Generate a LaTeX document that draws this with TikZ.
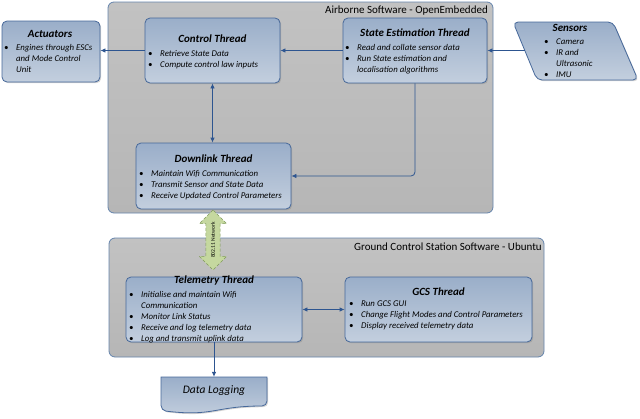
\documentclass[tikz,border=0pt]{standalone}
\usepackage{fontspec}
\setmainfont{Carlito}
\usetikzlibrary{shapes.arrows,shadows,arrows.meta}
\definecolor{boxtop}{HTML}{9AAEC9}
\definecolor{boxbot}{HTML}{C3CFDE}
\definecolor{boxborder}{HTML}{46689A}
\definecolor{conttop}{HTML}{C2C2C2}
\definecolor{contbot}{HTML}{B6B6B6}
\definecolor{contborder}{HTML}{6584AC}
\definecolor{arrowc}{HTML}{2D5590}
\definecolor{netfill}{HTML}{C5D89F}
\definecolor{netborder}{HTML}{7F9A5A}
\newcommand\bl{\makebox[12pt][l]{\textbullet}}
\newcommand\cl{\hspace*{12pt}}
\tikzset{
  cont/.style={draw=contborder, line width=0.8pt, rounded corners=6pt, top color=conttop, bottom color=contbot},
  box/.style={draw=boxborder, line width=0.8pt, rounded corners=5pt, top color=boxtop, bottom color=boxbot,
    drop shadow={opacity=0.35, shadow xshift=1.2pt, shadow yshift=-1.2pt}},
  ttl/.style={font=\fontsize{11}{13}\selectfont\bfseries\itshape, inner sep=0pt},
  body/.style={font=\fontsize{8.8}{11}\selectfont\itshape, align=left, inner sep=0pt, anchor=north west},
  conn/.style={draw=arrowc, line width=0.8pt, -{Latex[length=5pt,width=4.5pt]}},
  conn2/.style={draw=arrowc, line width=0.8pt, {Latex[length=5pt,width=4.5pt]}-{Latex[length=5pt,width=4.5pt]}},
  ctitle/.style={font=\fontsize{11}{13}\selectfont, inner sep=0pt, anchor=east}
}
\begin{document}
\begin{tikzpicture}[x=1pt,y=-1pt]
\useasboundingbox (0,0) rectangle (640,418);
% containers
\node[cont, minimum width=385pt, minimum height=211pt] (air) at (300.5,107.5) {};
\node[ctitle] (airT) at (488,11) {Airborne Software - OpenEmbedded};
\node[cont, minimum width=435pt, minimum height=119pt] (gnd) at (326.5,297.5) {};
\node[ctitle] (gndT) at (542,247) {Ground Control Station Software - Ubuntu};
% Actuators
\node[box, minimum width=98pt, minimum height=61pt] (act) at (51,51.5) {};
\node[ttl] (actT) at (50,34) {Actuators};
\node[body] (actB) at (4,44.5) {\bl Engines through ESCs\\ \cl and Mode Control\\ \cl Unit};
% Control
\node[box, minimum width=135pt, minimum height=65pt] (ctrl) at (212.5,50.5) {};
\node[ttl] (ctrlT) at (212.5,39) {Control Thread};
\node[body] (ctrlB) at (148,50) {\bl Retrieve State Data\\ \bl Compute control law inputs};
% State estimation
\node[box, minimum width=144pt, minimum height=65pt] (se) at (415,50.5) {};
\node[ttl] (seT) at (415,33) {State Estimation Thread};
\node[body] (seB) at (345,44) {\bl Read and collate sensor data\\ \bl Run State estimation and\\ \cl localisation algorithms};
% Sensors
\path[box] (513,22) -- (613,22) -- (638,80) -- (537,80) -- cycle;
\node[ttl] (sensT) at (570,28) {Sensors};
\node[body] (sensB) at (544,39) {\bl Camera\\ \bl IR and\\ \cl Ultrasonic\\ \bl IMU};
\coordinate (sensL) at (524.8,50.5);
% Downlink
\node[box, minimum width=155pt, minimum height=66pt] (dl) at (213.5,176) {};
\node[ttl] (dlT) at (213.5,159) {Downlink Thread};
\node[body] (dlB) at (139,170) {\bl Maintain Wifi Communication\\ \bl Transmit Sensor and State Data\\ \bl Receive Updated Control Parameters};
% Telemetry
\node[box, minimum width=176pt, minimum height=65pt] (tel) at (214,309.5) {};
\node[ttl] (telT) at (214,281) {Telemetry Thread};
\node[body] (telB) at (129,291) {\bl Initialise and maintain Wifi\\ \cl Communication\\ \bl Monitor Link Status\\ \bl Receive and log telemetry data\\ \bl Log and transmit uplink data};
% GCS
\node[box, minimum width=187pt, minimum height=65pt] (gcs) at (438.5,309.5) {};
\node[ttl] (gcsT) at (438.5,292) {GCS Thread};
\node[body] (gcsB) at (349,301) {\bl Run GCS GUI\\ \bl Change Flight Modes and Control Parameters\\ \bl Display received telemetry data};
% Data logging
\path[box] (161,382) .. controls (161,377) .. (166,377) -- (262,377) .. controls (267,377) .. (267,382) -- (267,406)
   .. controls (214,406) and (214,417) .. (161,410.5) -- cycle;
\node[inner sep=0pt, minimum width=106pt, minimum height=0pt] (dlog) at (214,377) {};
\node[font=\fontsize{11.5}{13}\selectfont\itshape, inner sep=0pt] (dlogT) at (214,391) {Data Logging};
% connectors
\draw[conn] (ctrl.west) -- (ctrl.west -| act.east);
\draw[conn] (se.west) -- (ctrl.east);
\draw[conn] (sensL) -- (se.east);
\draw[conn2] (ctrl.south) -- (ctrl.south |- dl.north);
\draw[conn, rounded corners=4pt] (se.south) |- (dl.east);
\draw[conn2] (tel.east) -- (gcs.west);
\draw[conn] (tel.south) -- (dlog.north);
% network arrow
\node[double arrow, rotate=90, fill=netfill, draw=netborder, densely dashed, line width=0.5pt,
  minimum height=60pt, double arrow head extend=6.5pt, double arrow head indent=0pt,
  inner xsep=0pt, inner ysep=5pt, font=\fontsize{5.5}{6}\selectfont] (net) at (213,240) {802.11 Network};
\end{tikzpicture}
\end{document}
